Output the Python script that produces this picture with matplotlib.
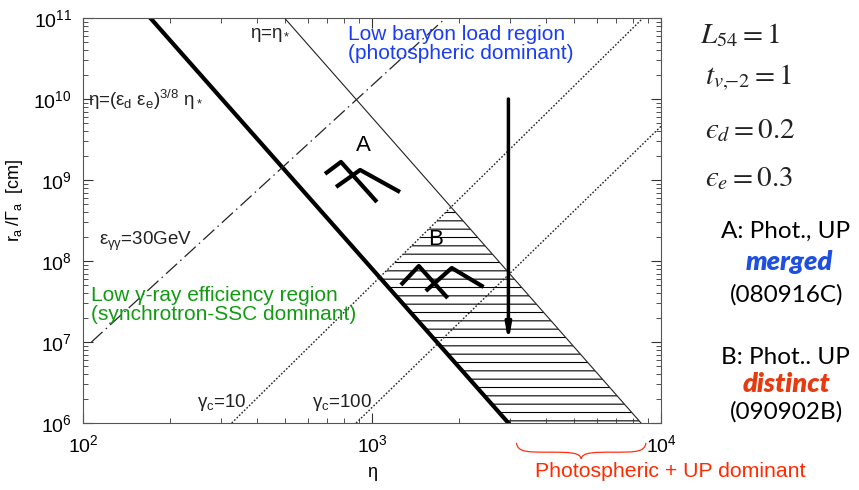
import matplotlib
matplotlib.use("Agg")
import matplotlib.pyplot as plt
from matplotlib.path import Path
from matplotlib.patches import PathPatch
import numpy as np

plt.rcParams['font.family'] = ['Liberation Sans', 'DejaVu Sans']
plt.rcParams['mathtext.fontset'] = 'custom'
plt.rcParams['mathtext.rm'] = 'Liberation Sans'
plt.rcParams['mathtext.it'] = 'Liberation Sans'
plt.rcParams['mathtext.bf'] = 'Liberation Sans:bold'
plt.rcParams['hatch.linewidth'] = 0.8

# line end points (eta, r_a/Gamma_a in cm)
eta_star_eta = [498, 8530]
eta_star_r = [1e11, 1e6]
eta_crit_eta = [171, 2965]
eta_crit_r = [1e11, 1e6]
egg_eta = [107, 1800]
egg_r = [1.0e7, 1e11]
gc10_eta = [327, 8670]
gc10_r = [1e6, 1e11]
gc100_eta = [881, 10000]
gc100_r = [1e6, 4.6e9]

# burst tracks A and B (each a list of polyline pieces)
track_a = [
    ([688, 781, 1040], [1.19e9, 1.67e9, 5.35e8]),
    ([751, 910, 1250], [8.2e8, 1.33e9, 7.1e8]),
]
track_b = [
    ([1259, 1452, 1828], [5.06e7, 8.67e7, 3.49e7]),
    ([1535, 1888, 2432], [4.27e7, 8.2e7, 4.78e7]),
]

arrow_eta = 2965
arrow_r = [1e10, 1.0e7]
brace_eta = [3160, 8870]


def log_line(eta, r):
    return np.log10(eta), np.log10(r)


def intersect(l1, l2):
    (u1, v1), (u2, v2) = l1, l2
    s1 = (v1[1] - v1[0]) / (u1[1] - u1[0])
    s2 = (v2[1] - v2[0]) / (u2[1] - u2[0])
    u = (v2[0] - v1[0] + s1 * u1[0] - s2 * u2[0]) / (s1 - s2)
    v = v1[0] + s1 * (u - u1[0])
    return 10 ** u, 10 ** v


fig = plt.figure(figsize=(8.59, 4.90), dpi=100)
ax = fig.add_axes([0.0966, 0.1367, 0.6729, 0.8266])
ax.set_xscale('log')
ax.set_yscale('log')
ax.set_xlim(100, 1e4)
ax.set_ylim(1e6, 1e11)

# hatched region between the two eta lines, under gamma_c = 10
star = log_line(eta_star_eta, eta_star_r)
crit = log_line(eta_crit_eta, eta_crit_r)
g10 = log_line(gc10_eta, gc10_r)
p1 = intersect(star, g10)
p2 = intersect(crit, g10)
poly_x = [eta_crit_eta[1], eta_star_eta[1], p1[0], p2[0]]
poly_y = [1e6, 1e6, p1[1], p2[1]]
ax.fill(poly_x, poly_y, facecolor='none', edgecolor='black', hatch='--', lw=0)

ax.plot(eta_star_eta, eta_star_r, color='#222222', lw=0.8)
ax.plot(eta_crit_eta, eta_crit_r, color='black', lw=3)
ax.plot(egg_eta, egg_r, color='#222222', lw=0.9, dashes=[12, 3.5, 1.2, 3.5])
ax.plot(gc10_eta, gc10_r, color='#222222', lw=1.0, dashes=[1.2, 1.3])
ax.plot(gc100_eta, gc100_r, color='#222222', lw=1.0, dashes=[1.2, 1.3])

for xs, ys in track_a + track_b:
    ax.plot(xs, ys, color='black', lw=3, solid_capstyle='butt')

ax.annotate('', xy=(arrow_eta, arrow_r[1]), xytext=(arrow_eta, arrow_r[0]),
            arrowprops=dict(arrowstyle='-|>,head_length=0.9,head_width=0.16',
                            color='black', lw=2.5, shrinkA=0, shrinkB=0))

# labels inside the plot
lab = dict(fontsize=13.5, color='#222222', va='center', ha='left')
ax.text(377, 6.2e10, '$\u03b7$=$\u03b7_*$', **lab)
ax.text(104, 9.8e9, '$\u03b7$=($\u03b5_{d}\\ \u03b5_{e}$)$^{3/8}$ $\u03b7_*$', **lab)
ax.text(114, 1.77e8, '$\u03b5_{\u03b3\u03b3}$=30GeV', **lab)
ax.text(249, 1.77e6, '$\u03b3_{c}$=10', **lab)
ax.text(621, 1.77e6, '$\u03b3_{c}$=100', **lab)
ax.text(931, 2.7e9, 'A', fontsize=16, ha='center', va='center')
ax.text(1663, 1.82e8, 'B', fontsize=16, ha='center', va='center')
ax.text(826, 4.84e10, 'Low baryon load region\n(photospheric dominant)',
        fontsize=15, color='#1a3cf5', ha='left', va='center', linespacing=1.0)
ax.text(107, 2.86e7, 'Low \u03b3-ray efficiency region\n(synchrotron-SSC dominant)',
        fontsize=15, color='#129a12', ha='left', va='center', linespacing=1.0)

ax.tick_params(which='both', direction='in', top=True, right=True,
               labelsize=14, colors='#333333', labelcolor='black')
ax.tick_params(which='major', length=7, pad=8)
ax.tick_params(which='minor', length=3.5)
for sp in ax.spines.values():
    sp.set_color('#555555')

ax.set_xlabel('\u03b7', fontsize=13, labelpad=6)
ax.set_ylabel('$r_{a}\\,/\u0393_{a}$  [cm]', fontsize=13, labelpad=4)
ax.yaxis.set_label_coords(-0.1, 0.55)

# red brace under the axis
xa, xb = [(np.log10(e) - 2) / 2 for e in brace_eta]
xm = (xa + xb) / 2
w = xb - xa
yt, yf, yb = -0.049, -0.072, -0.088
verts = [(xa, yt), (xa + 0.01 * w, yf), (xa + 0.08 * w, yf), (xa + 0.25 * w, yf),
         (xm - 0.1 * w, yf), (xm - 0.01 * w, yf), (xm, yb),
         (xm + 0.01 * w, yf), (xm + 0.1 * w, yf), (xb - 0.25 * w, yf),
         (xb - 0.08 * w, yf), (xb - 0.01 * w, yf), (xb, yt)]
codes = [Path.MOVETO] + [Path.CURVE4] * 12
brace = PathPatch(Path(verts, codes), transform=ax.transAxes, fill=False,
                  edgecolor='#ff3010', lw=0.9, clip_on=False)
ax.add_patch(brace)
fig.text(0.78, 0.037, 'Photospheric + UP dominant', fontsize=15.3, color='#ff2a00',
         ha='center', va='center')

# parameter box on the right
par = dict(fontsize=21, math_fontfamily='stix', ha='left', va='center', color='#222222')
fig.text(0.815, 0.929, r'$L_{54} = 1$', **par)
fig.text(0.821, 0.841, r'$t_{v{,}\!{-}2} = 1$', **par)
fig.text(0.821, 0.735, '$\u03f5_d = 0.2$', **par)
fig.text(0.821, 0.637, '$\u03f5_e = 0.3$', **par)

side = dict(fontsize=17.5, family='Lato', ha='center', va='center')
fig.text(0.914, 0.527, 'A: Phot., UP', **side)
fig.text(0.919, 0.465, 'merged', color='#1f4fe0', weight='heavy', style='italic',
         fontsize=19.5, family='Lato', ha='center', va='center')
fig.text(0.916, 0.398, '(080916C)', **side)
fig.text(0.914, 0.271, 'B: Phot.. UP', **side)
fig.text(0.916, 0.216, 'distinct', color='#e83a10', weight='heavy', style='italic',
         fontsize=19.5, family='Lato', ha='center', va='center')
fig.text(0.916, 0.159, '(090902B)', **side)

fig.savefig('out.png', dpi=100)
